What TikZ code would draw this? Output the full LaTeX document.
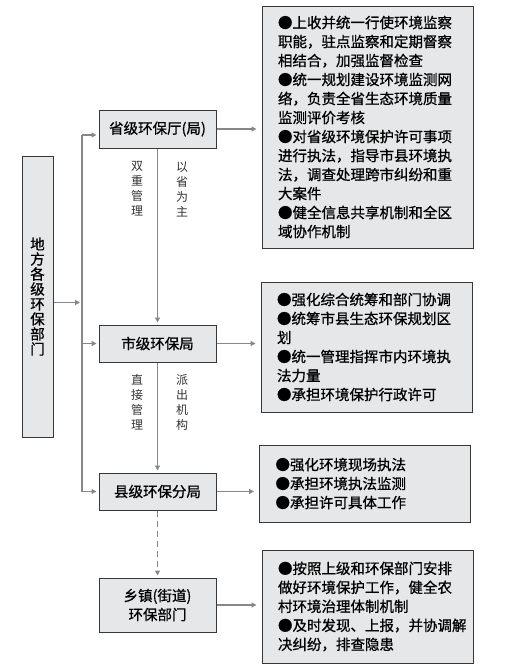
\documentclass[tikz,border=0pt]{standalone}
\usepackage{fontspec}
\setmainfont{Noto Sans CJK SC}[BoldFont={Noto Sans CJK SC},BoldFeatures={FakeBold=0.8}]
\usetikzlibrary{arrows.meta,calc}
\definecolor{boxgray}{RGB}{230,231,232}
\definecolor{edgegray}{RGB}{55,55,55}
\definecolor{linkgray}{RGB}{135,135,135}
\tikzset{
    unitbox/.style={draw=edgegray,fill=boxgray,line width=1pt,minimum width=117pt,inner sep=0pt,align=center,font=\fontsize{14.5}{19}\selectfont\bfseries},
    sidebox/.style={draw=edgegray,fill=boxgray,line width=1pt,minimum width=31pt,minimum height=281pt,inner sep=0pt,align=center,font=\fontsize{14.5}{15}\selectfont\bfseries},
    dutybox/.style={draw=edgegray,fill=boxgray,line width=1pt,inner xsep=16pt,inner ysep=0pt,text width=179pt,align=left,font=\fontsize{14.5}{19}\selectfont\bfseries},
    relnote/.style={align=center,inner sep=0pt,text=black!80,font=\fontsize{12}{15}\selectfont},
    busline/.style={linkgray,line width=1.8pt},
    flow/.style={busline,-{Triangle[length=5pt,width=5pt]},shorten >=2pt},
    dashflow/.style={flow,dash pattern=on 6pt off 4pt}
}

\begin{document}
\begin{tikzpicture}[x=1pt,y=-1pt]
    \useasboundingbox (0,0) rectangle (524,672);
    % Local departments
    \node[sidebox] (difang) at (37.5,296.5) {地\\方\\各\\级\\环\\保\\部\\门};
    % Levels
    \node[unitbox,minimum height=38pt] (sheng) at (157.5,129) {省级环保厅(局)};
    \node[unitbox,minimum height=37pt] (shi) at (157.5,343.5) {市级环保局};
    \node[unitbox,minimum height=37pt] (xian) at (157.5,491.5) {县级环保分局};
    \node[unitbox,minimum height=54pt] (xiang) at (157.5,605) {乡镇(街道)\\环保部门};
    % Duties
    \node[dutybox,minimum height=242pt] (dsheng) at (367.5,127) {●上收并统一行使环境监察\\职能，驻点监察和定期督察\\相结合，加强监督检查\\●统一规划建设环境监测网\\络，负责全省生态环境质量\\监测评价考核\\●对省级环境保护许可事项\\进行执法，指导市县环境执\\法，调查处理跨市纠纷和重\\大案件\\●健全信息共享机制和全区\\域协作机制};
    \node[dutybox,minimum height=130pt] (dshi) at (366.5,347) {●强化综合统筹和部门协调\\●统筹市县生态环保规划区\\划\\●统一管理指挥市内环境执\\法力量\\●承担环境保护行政许可};
    \node[dutybox,minimum height=77pt] (dxian) at (365,483.5) {●强化环境现场执法\\●承担环境执法监测\\●承担许可具体工作};
    \node[dutybox,minimum height=113pt] (dxiang) at (367.5,606.5) {●按照上级和环保部门安排\\做好环境保护工作，健全农\\村环境治理体制机制\\●及时发现、上报，并协调解\\决纠纷，排查隐患};
    % Relations
    \node[relnote] (shuang) at (137,189) {双\\重\\管\\理};
    \node[relnote] (yisheng) at (182,189) {以\\省\\为\\主};
    \node[relnote] (zhijie) at (137,402) {直\\接\\管\\理};
    \node[relnote] (paichu) at (182,402) {派\\出\\机\\构};
    % Bus on the left
    \coordinate (bustop) at (82,135);
    \coordinate (busend) at (bustop |- xian.west);
    \coordinate (difout) at ([yshift=-6pt]difang.east);
    \coordinate (shengin) at ([yshift=-6pt]sheng.west);
    \draw[busline] (bustop) -- (busend);
    \draw[flow] (difout) -- (bustop |- difout);
    \draw[flow] (bustop) -- (shengin);
    \draw[flow] (bustop |- shi.west) -- (shi.west);
    \draw[flow] (busend) -- (xian.west);
    % Down the levels
    \draw[flow] (sheng.south) -- (shi.north);
    \draw[flow] (shi.south) -- (xian.north);
    \draw[dashflow] (xian.south) -- (xiang.north);
    % Out to the duties
    \draw[flow,shorten >=5pt] (sheng.east) -- (sheng.east -| dsheng.west);
    \draw[flow,shorten >=5pt] (shi.east) -- (shi.east -| dshi.west);
    \draw[flow,shorten >=5pt] (xian.east) -- (xian.east -| dxian.west);
    \draw[flow,shorten >=5pt] (xiang.east) -- (xiang.east -| dxiang.west);
\end{tikzpicture}
\end{document}
